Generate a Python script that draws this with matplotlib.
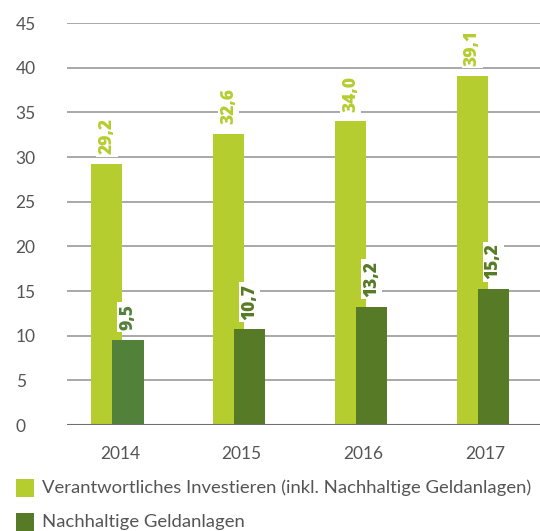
import matplotlib
matplotlib.use("Agg")
import matplotlib.pyplot as plt
import numpy as np
from matplotlib.patches import Rectangle

years = ["2014", "2015", "2016", "2017"]
verantwortlich = [29.2, 32.6, 34.0, 39.1]
nachhaltig = [9.5, 10.7, 13.2, 15.2]
verantwortlich_labels = ["29,2", "32,6", "34,0", "39,1"]
nachhaltig_labels = ["9,5", "10,7", "13,2", "15,2"]
yticks = [0, 5, 10, 15, 20, 25, 30, 35, 40, 45]
legend_labels = ["Verantwortliches Investieren (inkl. Nachhaltige Geldanlagen)",
                 "Nachhaltige Geldanlagen"]

LIGHT = "#b5cd2f"
DARK = "#567a25"
dark_colors = ["#52813a", DARK, DARK, DARK]
TEXT = "#555555"

plt.rcParams['font.family'] = ['Lato', 'DejaVu Sans']

fig = plt.figure(figsize=(5.4, 5.31), dpi=100)
ax = fig.add_axes([67/540, 1 - 425/531, 1 - 67/540, (425 - 23)/531])

x = np.arange(len(years))
w = 0.255
off_l, off_d = -0.107, 0.066
ax.bar(x + off_l, verantwortlich, width=w, color=LIGHT, zorder=2)
ax.bar(x + off_d, nachhaltig, width=w, color=dark_colors, zorder=3)

lab_font = dict(family=['Open Sans', 'DejaVu Sans'], weight='heavy', size=12.5)
for xi, v, lab in zip(x, verantwortlich, verantwortlich_labels):
    ax.annotate(lab, (xi + off_l, v), xytext=(0, 7), textcoords="offset points",
                rotation=90, ha="center", va="bottom", color=LIGHT,
                zorder=5, **lab_font,
                bbox=dict(boxstyle="square,pad=0.12", fc="white", ec="none"))
for xi, v, lab, c in zip(x, nachhaltig, nachhaltig_labels, dark_colors):
    ax.annotate(lab, (xi + off_d, v), xytext=(0, 7), textcoords="offset points",
                rotation=90, ha="center", va="bottom", color=c,
                zorder=5, **lab_font,
                bbox=dict(boxstyle="square,pad=0.12", fc="white", ec="none"))

ax.set_xlim(-0.435, 3.45)
ax.set_ylim(0, 45)
ax.set_yticks(yticks)
ax.set_yticklabels([str(t) for t in yticks])
ax.set_xticks(x)
ax.set_xticklabels(years)
for lab in ax.get_yticklabels():
    lab.set_horizontalalignment("left")
ax.tick_params(axis="y", length=0, pad=37, labelsize=12.5, labelcolor=TEXT)
ax.tick_params(axis="x", length=0, pad=15, labelsize=12.5, labelcolor=TEXT)
for s in ax.spines.values():
    s.set_visible(False)
ax.grid(axis="y", color="#9a9a9a", linewidth=1.2, zorder=0)
ax.set_axisbelow(True)
ax.axhline(0, color="#707070", linewidth=1.5, zorder=4)

# legend
for i, (lab, c) in enumerate(zip(legend_labels, [LIGHT, DARK])):
    ytop = 479 + i * 34
    fig.patches.append(Rectangle((16/540, 1 - (ytop + 18)/531), 18/540, 18/531,
                                 transform=fig.transFigure, fc=c, ec="none"))
    fig.text(42/540, 1 - (ytop + 9)/531, lab, ha="left", va="center",
             fontsize=13.3, color=TEXT)

fig.savefig("out.png", dpi=100)
